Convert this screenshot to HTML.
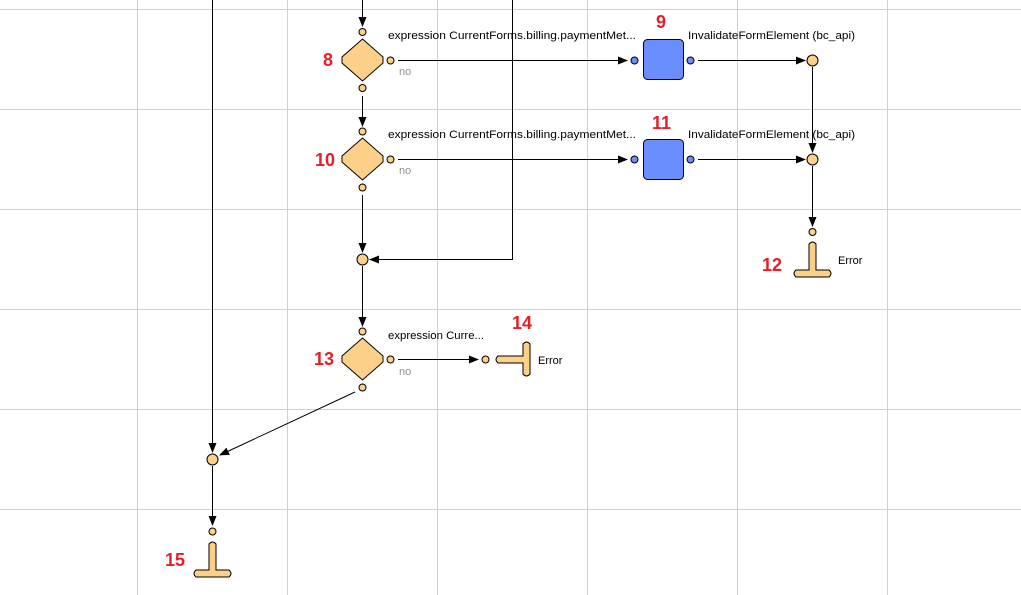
<!DOCTYPE html>
<html><head><meta charset="utf-8"><style>
html,body{margin:0;padding:0;background:#fff;}
svg{display:block;}
text{font-family:"Liberation Sans","DejaVu Sans",sans-serif;}
.t{font-size:11px;fill:#000;}
.no{font-size:11px;fill:#909090;}
.n{font-size:18px;font-weight:bold;fill:#e0202a;}
</style></head><body>
<svg width="1021" height="595" viewBox="0 0 1021 595" xmlns="http://www.w3.org/2000/svg">
<defs>
<marker id="a" markerWidth="10" markerHeight="8" refX="9" refY="4" orient="auto" markerUnits="userSpaceOnUse">
<path d="M0,0 L10,4 L0,8 z" fill="#000"/></marker>
</defs>
<g stroke="#d0d0d0" stroke-width="1">
<line x1="137.5" y1="0" x2="137.5" y2="595"/><line x1="287.5" y1="0" x2="287.5" y2="595"/>
<line x1="437.5" y1="0" x2="437.5" y2="595"/><line x1="587.5" y1="0" x2="587.5" y2="595"/>
<line x1="737.5" y1="0" x2="737.5" y2="595"/><line x1="887.5" y1="0" x2="887.5" y2="595"/>
<line x1="0" y1="9.5" x2="1021" y2="9.5"/><line x1="0" y1="109.5" x2="1021" y2="109.5"/>
<line x1="0" y1="209.5" x2="1021" y2="209.5"/><line x1="0" y1="309.5" x2="1021" y2="309.5"/>
<line x1="0" y1="409.5" x2="1021" y2="409.5"/><line x1="0" y1="509.5" x2="1021" y2="509.5"/>
</g>
<g stroke="#000" stroke-width="1" fill="none">
<line x1="362.5" y1="0" x2="362.5" y2="26" marker-end="url(#a)"/>
<line x1="362.5" y1="96" x2="362.5" y2="126" marker-end="url(#a)"/>
<line x1="362.5" y1="195" x2="362.5" y2="252" marker-end="url(#a)"/>
<line x1="362.5" y1="266" x2="362.5" y2="326" marker-end="url(#a)"/>
<polyline points="512.5,0 512.5,259.5 370,259.5" marker-end="url(#a)"/>
<line x1="398" y1="60.5" x2="627" y2="60.5" marker-end="url(#a)"/>
<line x1="398" y1="159.5" x2="627" y2="159.5" marker-end="url(#a)"/>
<line x1="698" y1="60.5" x2="805" y2="60.5" marker-end="url(#a)"/>
<line x1="698" y1="159.5" x2="805" y2="159.5" marker-end="url(#a)"/>
<line x1="812.5" y1="67" x2="812.5" y2="152" marker-end="url(#a)"/>
<line x1="812.5" y1="166" x2="812.5" y2="226" marker-end="url(#a)"/>
<line x1="398" y1="359.5" x2="478" y2="359.5" marker-end="url(#a)"/>
<line x1="355" y1="392" x2="220" y2="455" marker-end="url(#a)"/>
<line x1="212.5" y1="0" x2="212.5" y2="452" marker-end="url(#a)"/>
<line x1="212.5" y1="466" x2="212.5" y2="525" marker-end="url(#a)"/>
</g>
<g fill="#fdd08a" stroke="#000" stroke-width="1">
<path d="M362.5,39 L383,57 L383,63 L362.5,81 L342,63 L342,57 Z"/>
<path d="M362.5,138 L383,156 L383,162 L362.5,180 L342,162 L342,156 Z"/>
<path d="M362.5,338 L383,356 L383,362 L362.5,380 L342,362 L342,356 Z"/>
<circle cx="362.5" cy="32" r="3.5"/><circle cx="390.5" cy="60.5" r="3.5"/><circle cx="362.5" cy="88" r="3.5"/>
<circle cx="362.5" cy="131.5" r="3.5"/><circle cx="390.5" cy="159.5" r="3.5"/><circle cx="362.5" cy="187.5" r="3.5"/>
<circle cx="362.5" cy="331.5" r="3.5"/><circle cx="390.5" cy="359.5" r="3.5"/><circle cx="362.5" cy="387.5" r="3.5"/>
<circle cx="362.5" cy="259.5" r="5.5"/><circle cx="212.5" cy="459.5" r="5.5"/>
<circle cx="812.5" cy="60.5" r="5.5"/><circle cx="812.5" cy="159.5" r="5.5"/>
<circle cx="812.5" cy="232" r="3.5"/><circle cx="485.5" cy="359.5" r="3.5"/><circle cx="212.5" cy="531.5" r="3.5"/>
<path d="M209,544 Q212.5,540 216,544 L216,570 L229,570 Q233,573.5 229,577 L196,577 Q192,573.5 196,570 L209,570 Z"/>
<path d="M809,244 Q812.5,240 816,244 L816,270 L829,270 Q833,273.5 829,277 L796,277 Q792,273.5 796,270 L809,270 Z"/>
<path d="M523,344 Q526.5,340 530,344 L530,374 Q526.5,378 523,374 L523,363 L498,363 Q494,359.5 498,356 L523,356 Z"/>
</g>
<g fill="#6b8eff" stroke="#000" stroke-width="1">
<rect x="643.5" y="39.5" width="40" height="40" rx="4"/>
<rect x="643.5" y="139.5" width="40" height="40" rx="4"/>
<circle cx="634.5" cy="60.5" r="3.5"/><circle cx="690.5" cy="60.5" r="3.5"/>
<circle cx="634.5" cy="159.5" r="3.5"/><circle cx="690.5" cy="159.5" r="3.5"/>
</g>
<text class="t" x="388" y="39" textLength="248" lengthAdjust="spacingAndGlyphs">expression CurrentForms.billing.paymentMet...</text>
<text class="t" x="388" y="138" textLength="248" lengthAdjust="spacingAndGlyphs">expression CurrentForms.billing.paymentMet...</text>
<text class="t" x="388" y="339" textLength="96" lengthAdjust="spacingAndGlyphs">expression Curre...</text>
<text class="no" x="399" y="75">no</text>
<text class="no" x="399" y="174">no</text>
<text class="no" x="399" y="375">no</text>
<text class="t" x="688" y="39" textLength="167" lengthAdjust="spacingAndGlyphs">InvalidateFormElement (bc_api)</text>
<text class="t" x="688" y="138" textLength="167" lengthAdjust="spacingAndGlyphs">InvalidateFormElement (bc_api)</text>
<text class="t" x="838" y="264">Error</text>
<text class="t" x="538" y="364">Error</text>
<text class="n" x="323" y="66">8</text>
<text class="n" x="656" y="28">9</text>
<text class="n" x="315" y="166">10</text>
<text class="n" x="652" y="129">11</text>
<text class="n" x="762" y="271">12</text>
<text class="n" x="314" y="365">13</text>
<text class="n" x="512" y="329">14</text>
<text class="n" x="165" y="566">15</text>
</svg>
</body></html>
